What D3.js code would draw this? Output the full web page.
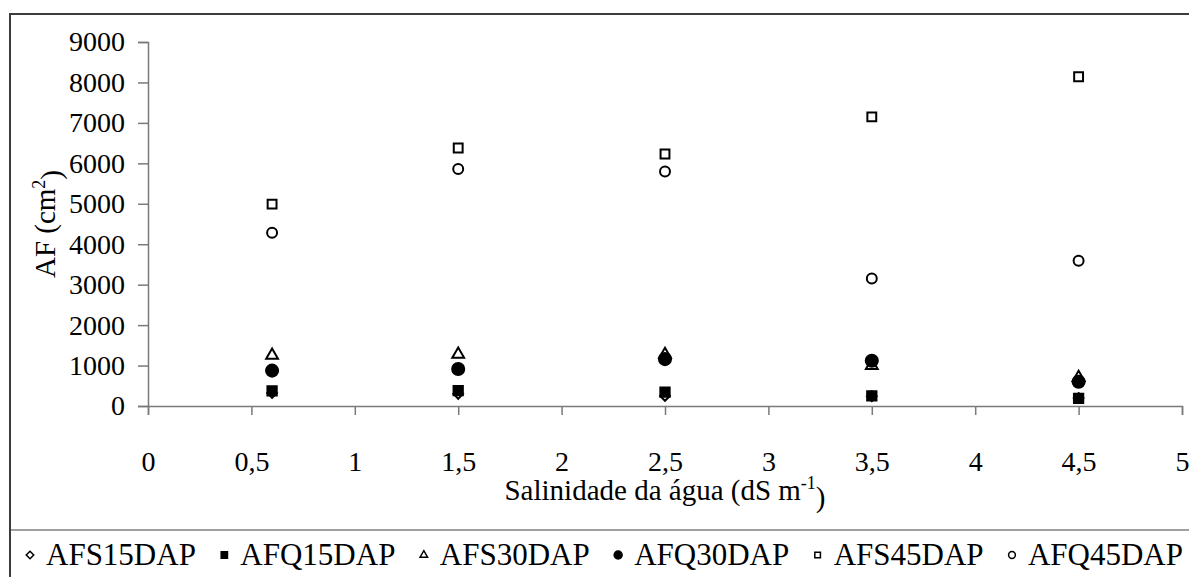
<!DOCTYPE html>
<html>
<head>
<meta charset="utf-8">
<script src="https://cdn.jsdelivr.net/npm/d3@7"></script>
<style>
  body { margin: 0; background: #fff; }
</style>
</head>
<body>
<div id="chart"></div>
<script>
// salinity levels (dS m-1)
const salinity = [0.6, 1.5, 2.5, 3.5, 4.5];

// leaf area (cm2) per series
const afs15 = [320, 300, 250, 240, 200];
const afq15 = [375, 380, 345, 250, 190];
const afs30 = [1250, 1280, 1270, 1000, 700];
const afq30 = [875, 915, 1160, 1120, 600];
const afs45 = [4990, 6380, 6230, 7150, 8140];
const afq45 = [4285, 5860, 5800, 3150, 3590];

const seriesNames = ["AFS15DAP", "AFQ15DAP", "AFS30DAP", "AFQ30DAP", "AFS45DAP", "AFQ45DAP"];
const seriesValues = [afs15, afq15, afs30, afq30, afs45, afq45];

const xTicks = [0, 0.5, 1, 1.5, 2, 2.5, 3, 3.5, 4, 4.5, 5];
const yTicks = [0, 1000, 2000, 3000, 4000, 5000, 6000, 7000, 8000, 9000];

const W = 1189, H = 577;
const FONT = "Liberation Serif";
const plot = { left: 148, right: 1182, top: 42, bottom: 406 };

// marker style per series: symbol type, filled or open, size
const markerStyle = [
  { type: d3.symbolDiamond2, fill: "#fff", size: 60, legendSize: 36 },
  { type: d3.symbolSquare2, fill: "#000", size: 110, legendSize: 50 },
  { type: d3.symbolTriangle2, fill: "#fff", size: 100, legendSize: 40 },
  { type: d3.symbolCircle, fill: "#000", size: 115, legendSize: 50 },
  { type: d3.symbolSquare2, fill: "#fff", size: 100, legendSize: 40 },
  { type: d3.symbolCircle, fill: "#fff", size: 78, legendSize: 36 }
];

const svg = d3.select("#chart").append("svg")
  .attr("width", W)
  .attr("height", H)
  .attr("font-family", FONT);

// outer frame + legend separator
svg.append("rect")
  .attr("x", 10).attr("y", 14)
  .attr("width", 1190).attr("height", 580)
  .attr("fill", "none")
  .attr("stroke", "#3c3c3c")
  .attr("stroke-width", 2);

svg.append("line")
  .attr("x1", 11).attr("x2", W)
  .attr("y1", 530).attr("y2", 530)
  .attr("stroke", "#808080")
  .attr("stroke-width", 1.5);

const x = d3.scaleLinear().domain([0, 5]).range([plot.left, plot.right]);
const y = d3.scaleLinear().domain([0, 9000]).range([plot.bottom, plot.top]);

// y axis
const yAxis = svg.append("g")
  .attr("transform", "translate(" + plot.left + ",0)")
  .call(d3.axisLeft(y).tickValues(yTicks).tickSize(10).tickPadding(13).tickFormat(d3.format("d")));

// x axis
const xAxis = svg.append("g")
  .attr("transform", "translate(0," + plot.bottom + ")")
  .call(d3.axisBottom(x).tickValues(xTicks).tickSize(9)
    .tickFormat(d => String(d).replace(".", ",")));

[yAxis, xAxis].forEach(a => {
  a.attr("font-family", FONT).attr("font-size", 28);
  a.selectAll(".domain").attr("stroke", "#7a7a7a").attr("stroke-width", 1.5);
  a.selectAll(".tick line").attr("stroke", "#7a7a7a").attr("stroke-width", 1.5);
  a.selectAll("text").attr("fill", "#000").attr("font-family", FONT);
});
xAxis.selectAll(".tick text").attr("y", 65).attr("dy", 0);

// axis titles
const yTitle = svg.append("text")
  .attr("transform", "translate(55," + ((plot.top + plot.bottom) / 2) + ") rotate(-90)")
  .attr("text-anchor", "middle")
  .attr("font-family", FONT)
  .attr("font-size", 29);
yTitle.append("tspan").text("AF (cm");
yTitle.append("tspan").attr("dy", "-0.55em").attr("font-size", 18).text("2");
yTitle.append("tspan").attr("dy", "0.55em").text(")");

const xTitle = svg.append("text")
  .attr("x", (plot.left + plot.right) / 2)
  .attr("y", 500)
  .attr("text-anchor", "middle")
  .attr("font-family", FONT)
  .attr("font-size", 29);
xTitle.append("tspan").text("Salinidade da água (dS m");
xTitle.append("tspan").attr("dy", "-0.6em").attr("font-size", 18).text("-1");
xTitle.append("tspan").attr("dy", "0.6em").text(")");

// data points, series drawn in order so later ones sit on top
seriesValues.forEach((vals, i) => {
  const st = markerStyle[i];
  svg.append("g")
    .selectAll("path")
    .data(vals.map((v, j) => [salinity[j], v]))
    .join("path")
    .attr("transform", d => "translate(" + x(d[0]) + "," + y(d[1]) + ")")
    .attr("d", d3.symbol().type(st.type).size(st.size))
    .attr("fill", st.fill)
    .attr("stroke", "#000")
    .attr("stroke-width", 2);
});

// legend
const legend = svg.append("g");
const items = legend.selectAll("g")
  .data(seriesNames)
  .join("g");

items.append("path")
  .attr("d", (d, i) => d3.symbol().type(markerStyle[i].type).size(markerStyle[i].legendSize)())
  .attr("fill", (d, i) => markerStyle[i].fill)
  .attr("stroke", "#000")
  .attr("stroke-width", 1.5);

const textOffset = 16;
items.append("text")
  .attr("x", textOffset)
  .attr("y", 10)
  .attr("font-family", FONT)
  .attr("font-size", 31)
  .text(d => d);

// spread legend items: first marker at x=30, last text ending at x=1183
let widths = [];
items.each(function() { widths.push(textOffset + d3.select(this).select("text").node().getComputedTextLength()); });
const total = d3.sum(widths);
const gap = (1183 - 30 - total) / (seriesNames.length - 1);
let cur = 30;
items.attr("transform", (d, i) => {
  const t = "translate(" + cur + ",555)";
  cur += widths[i] + gap;
  return t;
});
</script>
</body>
</html>
